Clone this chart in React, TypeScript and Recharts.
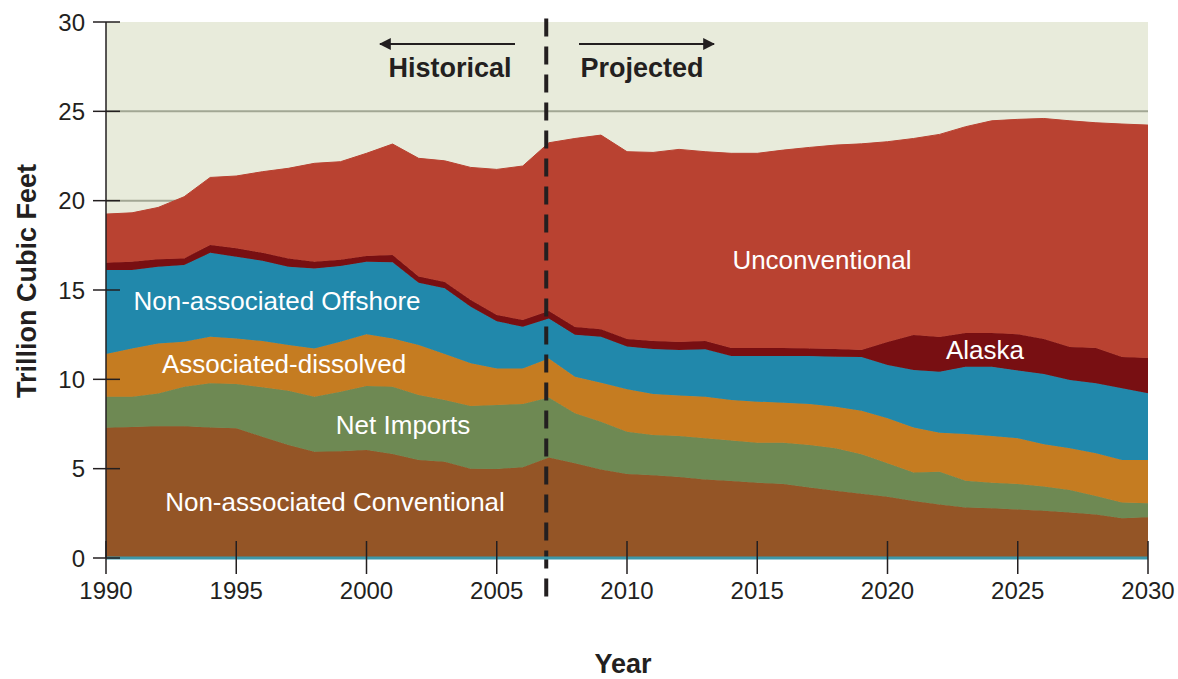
import React from 'react';
import { AreaChart, Area, XAxis, YAxis, CartesianGrid, ReferenceLine } from 'recharts';

const YEARS = [
  1990, 1991, 1992, 1993, 1994, 1995, 1996, 1997, 1998, 1999,
  2000, 2001, 2002, 2003, 2004, 2005, 2006, 2007, 2008, 2009,
  2010, 2011, 2012, 2013, 2014, 2015, 2016, 2017, 2018, 2019,
  2020, 2021, 2022, 2023, 2024, 2025, 2026, 2027, 2028, 2029, 2030,
];

// trillion cubic feet
const CONVENTIONAL = [
  7.29, 7.33, 7.37, 7.37, 7.30, 7.26, 6.79, 6.32, 5.95, 5.97,
  6.04, 5.82, 5.48, 5.39, 5.00, 4.98, 5.08, 5.63, 5.30, 4.96,
  4.70, 4.63, 4.53, 4.40, 4.31, 4.21, 4.14, 3.94, 3.77, 3.60,
  3.43, 3.19, 3.00, 2.83, 2.78, 2.72, 2.65, 2.54, 2.44, 2.22, 2.28,
];
const NET_IMPORTS = [
  1.74, 1.70, 1.84, 2.22, 2.48, 2.48, 2.76, 3.04, 3.08, 3.34,
  3.58, 3.77, 3.64, 3.45, 3.51, 3.58, 3.54, 3.36, 2.80, 2.67,
  2.37, 2.25, 2.30, 2.30, 2.26, 2.24, 2.31, 2.38, 2.37, 2.20,
  1.87, 1.59, 1.83, 1.50, 1.43, 1.42, 1.35, 1.27, 1.03, 0.88, 0.78,
];
const ASSOC_DISSOLVED = [
  2.39, 2.70, 2.80, 2.51, 2.60, 2.55, 2.59, 2.56, 2.70, 2.79,
  2.90, 2.70, 2.80, 2.58, 2.39, 2.05, 1.99, 2.18, 2.05, 2.18,
  2.37, 2.30, 2.27, 2.33, 2.27, 2.30, 2.24, 2.30, 2.33, 2.44,
  2.52, 2.53, 2.18, 2.61, 2.62, 2.56, 2.37, 2.33, 2.39, 2.38, 2.42,
];
const OFFSHORE = [
  4.70, 4.39, 4.29, 4.30, 4.70, 4.57, 4.50, 4.38, 4.48, 4.25,
  4.06, 4.26, 3.48, 3.68, 3.16, 2.64, 2.33, 2.24, 2.35, 2.57,
  2.40, 2.52, 2.54, 2.65, 2.46, 2.55, 2.61, 2.68, 2.79, 3.01,
  2.98, 3.21, 3.42, 3.77, 3.88, 3.80, 3.93, 3.82, 3.92, 4.02, 3.74,
];
const ALASKA = [
  0.40, 0.46, 0.42, 0.37, 0.44, 0.47, 0.44, 0.47, 0.37, 0.35,
  0.32, 0.41, 0.35, 0.35, 0.38, 0.35, 0.38, 0.41, 0.43, 0.43,
  0.42, 0.44, 0.45, 0.46, 0.45, 0.45, 0.45, 0.42, 0.44, 0.39,
  1.29, 1.96, 1.94, 1.88, 1.88, 2.03, 1.96, 1.85, 1.97, 1.75, 1.97,
];
const UNCONVENTIONAL = [
  2.73, 2.74, 2.90, 3.45, 3.78, 4.05, 4.54, 5.04, 5.51, 5.48,
  5.75, 6.21, 6.62, 6.78, 7.42, 8.15, 8.62, 9.42, 10.55, 10.86,
  10.48, 10.56, 10.78, 10.60, 10.90, 10.90, 11.08, 11.26, 11.41, 11.54,
  11.21, 11.00, 11.34, 11.55, 11.88, 12.02, 12.34, 12.66, 12.61, 13.04, 13.04,
];

const X_TICKS = [1990, 1995, 2000, 2005, 2010, 2015, 2020, 2025, 2030];
const Y_TICKS = [0, 5, 10, 15, 20, 25, 30];
const SPLIT_YEAR = 2006.9;

const data = YEARS.map((year, i) => ({
  year,
  conventional: CONVENTIONAL[i],
  netImports: NET_IMPORTS[i],
  assocDissolved: ASSOC_DISSOLVED[i],
  offshore: OFFSHORE[i],
  alaska: ALASKA[i],
  unconventional: UNCONVENTIONAL[i],
}));

const SERIES = [
  { key: 'conventional', color: '#945526' },
  { key: 'netImports', color: '#6e8953' },
  { key: 'assocDissolved', color: '#c57c21' },
  { key: 'offshore', color: '#2188ab' },
  { key: 'alaska', color: '#780f12' },
  { key: 'unconventional', color: '#b94231' },
];

const FONT = '"Liberation Sans", Arial, Helvetica, sans-serif';
const INK = '#231f20';

const XTick = (props: any) => {
  const { x, y, payload } = props;
  const axisY = y - 24;
  return (
    <g>
      <line x1={x} x2={x} y1={axisY - 17} y2={axisY + 16} stroke={INK} strokeWidth={1.5} />
      <text x={x} y={y} dy="0.71em" textAnchor="middle" fontSize={24} fill={INK} fontFamily={FONT}>
        {payload.value}
      </text>
    </g>
  );
};

const YTick = (props: any) => {
  const { x, y, payload } = props;
  const axisX = x + 21;
  return (
    <g>
      <line x1={axisX - 13} x2={axisX + 14} y1={y} y2={y} stroke={INK} strokeWidth={1.5} />
      <text x={x} y={y} dy="0.355em" textAnchor="end" fontSize={24} fill={INK} fontFamily={FONT}>
        {payload.value}
      </text>
    </g>
  );
};

const labelStyle = { fontFamily: FONT, fontSize: 26, fill: '#ffffff' } as const;
const boldStyle = { fontFamily: FONT, fontSize: 27, fontWeight: 700, fill: INK } as const;

export default function App() {
  return (
    <div style={{ position: 'absolute', left: 0, top: 0, width: 1178, height: 679, background: '#fff' }}>
      <AreaChart
        width={1178}
        height={679}
        data={data}
        margin={{ top: 22, right: 30, bottom: 81, left: 46 }}
      >
        <CartesianGrid
          vertical={false}
          horizontalValues={[20, 25]}
          stroke="#a2a794"
          strokeWidth={2}
          fill="#e8ebdb"
          fillOpacity={1}
        />
        {SERIES.map((s) => (
          <Area
            key={s.key}
            type="linear"
            dataKey={s.key}
            stackId="gas"
            stroke={s.color}
            strokeWidth={1}
            fill={s.color}
            fillOpacity={1}
            isAnimationActive={false}
          />
        ))}
        <XAxis
          dataKey="year"
          type="number"
          domain={[1990, 2030]}
          ticks={X_TICKS}
          interval={0}
          height={40}
          tickSize={16}
          tickMargin={8}
          tickLine={false}
          axisLine={{ stroke: '#3d97a8', strokeWidth: 3 }}
          tick={<XTick />}
        />
        <YAxis
          type="number"
          domain={[0, 30]}
          ticks={Y_TICKS}
          interval={0}
          width={60}
          tickSize={13}
          tickMargin={8}
          tickLine={false}
          axisLine={{ stroke: INK, strokeWidth: 1.5 }}
          tick={<YTick />}
        />
        <ReferenceLine
          segment={[{ x: SPLIT_YEAR, y: 30.2 }, { x: SPLIT_YEAR, y: -2.6 }]}
          ifOverflow="visible"
          stroke={INK}
          strokeWidth={4}
          strokeDasharray="18 10"
        />
      </AreaChart>

      <svg
        width={1178}
        height={679}
        style={{ position: 'absolute', left: 0, top: 0, pointerEvents: 'none' }}
      >
        <defs>
          <marker id="head" viewBox="0 0 10 10" refX="9" refY="5" markerWidth="6" markerHeight="6" orient="auto-start-reverse">
            <path d="M0,0 L10,5 L0,10 z" fill={INK} />
          </marker>
        </defs>
        <line x1={515} y1={44} x2={380} y2={44} stroke={INK} strokeWidth={2} markerEnd="url(#head)" />
        <line x1={579} y1={44} x2={714} y2={44} stroke={INK} strokeWidth={2} markerEnd="url(#head)" />
        <text x={450} y={68} textAnchor="middle" dominantBaseline="central" style={boldStyle}>Historical</text>
        <text x={642} y={68} textAnchor="middle" dominantBaseline="central" style={boldStyle}>Projected</text>

        <text x={822} y={260} textAnchor="middle" dominantBaseline="central" style={labelStyle}>Unconventional</text>
        <text x={985} y={350} textAnchor="middle" dominantBaseline="central" style={labelStyle}>Alaska</text>
        <text x={277} y={301} textAnchor="middle" dominantBaseline="central" style={labelStyle}>Non-associated Offshore</text>
        <text x={284} y={364} textAnchor="middle" dominantBaseline="central" style={labelStyle}>Associated-dissolved</text>
        <text x={403} y={425} textAnchor="middle" dominantBaseline="central" style={labelStyle}>Net Imports</text>
        <text x={335} y={502} textAnchor="middle" dominantBaseline="central" style={labelStyle}>Non-associated Conventional</text>

        <text x={623} y={664} textAnchor="middle" dominantBaseline="central" style={boldStyle}>Year</text>
        <text
          x={27}
          y={281}
          textAnchor="middle"
          dominantBaseline="central"
          transform="rotate(-90 27 281)"
          style={boldStyle}
        >
          Trillion Cubic Feet
        </text>
      </svg>
    </div>
  );
}
